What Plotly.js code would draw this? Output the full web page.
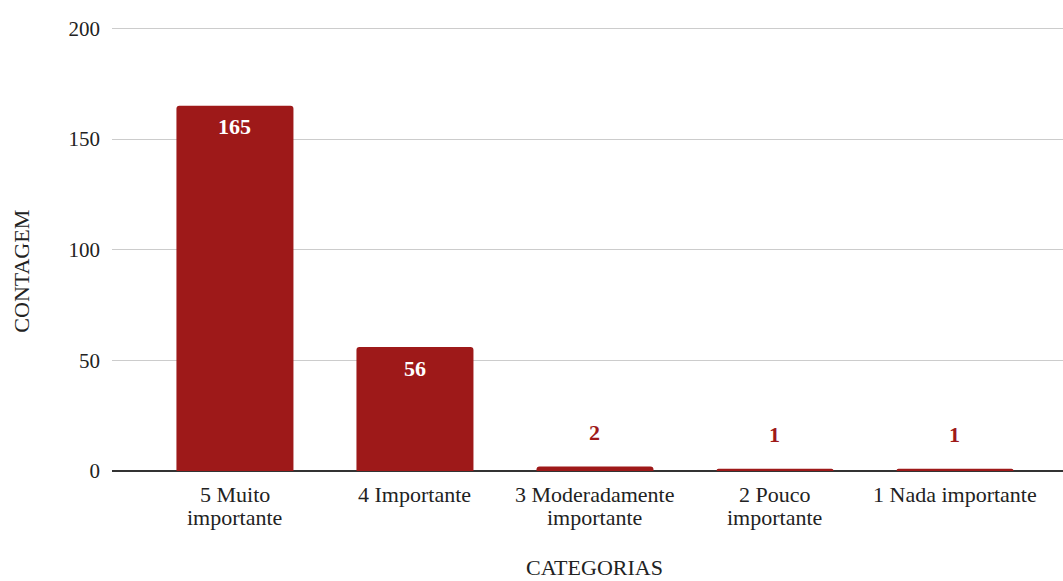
<!DOCTYPE html>
<html><head><meta charset="utf-8">
<script src="https://cdn.plot.ly/plotly-3.0.1.min.js"></script>
<style>html,body{margin:0;padding:0;background:#fff}#c{width:1063px;height:581px}</style>
</head><body><div id="c"></div>
<script>
var catLine1 = ['5 Muito','4 Importante','3 Moderadamente','2 Pouco','1 Nada importante'];
var catLine2 = ['importante','','importante','importante',''];
var counts = [165, 56, 2, 1, 1];
var tickVals = [0, 50, 100, 150, 200];

var FONT = 'Liberation Serif, Times New Roman, serif';
var TXT = '#222';
var barColor = '#9e1919';
var idx = counts.map(function(_, i){ return i; });
var ann = [];
counts.forEach(function(v, i){
  var inside = v > 20;
  ann.push({x: i, y: v, xref:'x', yref:'y', text: '<b>'+v+'</b>', showarrow:false,
    yanchor:'middle', yshift: inside ? -21 : 34,
    font:{family:FONT, size:22, color: inside ? '#ffffff' : barColor}});
  ann.push({x: i, y: 0, xref:'x', yref:'y', text: catLine1[i], showarrow:false,
    yanchor:'middle', yshift:-23, font:{family:FONT, size:22, color:TXT}});
  if (catLine2[i]) ann.push({x: i, y: 0, xref:'x', yref:'y', text: catLine2[i], showarrow:false,
    yanchor:'middle', yshift:-46, font:{family:FONT, size:22, color:TXT}});
});
ann.push({text:'CONTAGEM', xref:'paper', yref:'paper', x:0, y:0.449, xshift:-90, textangle:-90,
  xanchor:'center', yanchor:'middle', showarrow:false, font:{family:FONT, size:22, color:TXT}});
ann.push({text:'CATEGORIAS', xref:'x', yref:'y', x:2, y:0, yshift:-96, borderpad:0,
  xanchor:'center', yanchor:'middle', showarrow:false, font:{family:FONT, size:22, color:TXT}});

var data = [{type:'bar', x:idx, y:counts, marker:{color:barColor, cornerradius:3}, hoverinfo:'none'}];
var layout = {
  width:1063, height:581, margin:{l:112, r:0, t:27, b:110},
  paper_bgcolor:'#fff', plot_bgcolor:'#fff', bargap:0.35, showlegend:false,
  font:{family:FONT, size:22, color:TXT},
  xaxis:{range:[-0.683,4.6], showticklabels:false, showgrid:false, zeroline:false,
    showline:false, ticks:''},
  yaxis:{range:[0,200.6], tickvals:tickVals, showgrid:true, gridcolor:'#cccccc', gridwidth:1,
    zeroline:true, zerolinecolor:'#333', zerolinewidth:1.5, ticks:'', ticklabelstandoff:11,
    tickfont:{family:FONT, size:21, color:TXT}},
  annotations: ann
};
Plotly.newPlot('c', data, layout, {staticPlot:true});
</script></body></html>
